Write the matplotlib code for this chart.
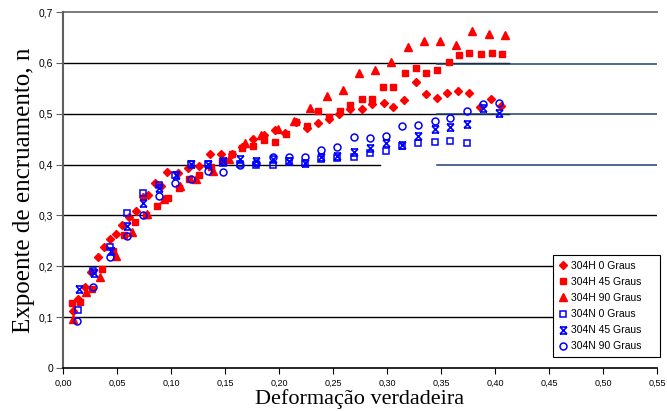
import numpy as np
import matplotlib.pyplot as plt
from matplotlib.path import Path
from matplotlib.ticker import FuncFormatter, MultipleLocator

# 304H 0 Graus
x_h0 = [0.009, 0.014, 0.020, 0.026, 0.032, 0.038, 0.0435, 0.049, 0.055, 0.061, 0.068, 0.074, 0.079,
        0.085, 0.091, 0.0966, 0.106, 0.116, 0.126, 0.136, 0.146, 0.156, 0.166, 0.176, 0.186, 0.196,
        0.206, 0.216, 0.226, 0.236, 0.246, 0.256, 0.266, 0.277, 0.286, 0.297, 0.306, 0.316, 0.3265,
        0.336, 0.346, 0.356, 0.366, 0.376, 0.386, 0.396, 0.406]
y_h0 = [0.112, 0.135, 0.159, 0.188, 0.219, 0.237, 0.254, 0.263, 0.282, 0.297, 0.309, 0.336, 0.341,
        0.364, 0.358, 0.385, 0.383, 0.393, 0.398, 0.420, 0.420, 0.420, 0.435, 0.451, 0.459, 0.468,
        0.463, 0.484, 0.472, 0.481, 0.490, 0.500, 0.510, 0.509, 0.520, 0.521, 0.513, 0.527, 0.562,
        0.538, 0.530, 0.540, 0.545, 0.541, 0.514, 0.529, 0.515]

# 304H 45 Graus
x_h45 = [0.008, 0.016, 0.027, 0.036, 0.0466, 0.0565, 0.0667, 0.077, 0.0867, 0.097, 0.107, 0.117,
         0.126, 0.137, 0.147, 0.156, 0.166, 0.176, 0.186, 0.196, 0.2065, 0.216, 0.226, 0.236, 0.246,
         0.2565, 0.266, 0.2766, 0.286, 0.2966, 0.306, 0.3167, 0.3265, 0.336, 0.346, 0.357, 0.3667,
         0.376, 0.387, 0.397, 0.4068]
y_h45 = [0.128, 0.130, 0.155, 0.194, 0.230, 0.261, 0.288, 0.300, 0.3185, 0.335, 0.353, 0.371,
         0.380, 0.395, 0.408, 0.420, 0.432, 0.437, 0.448, 0.445, 0.460, 0.483, 0.475, 0.505, 0.493,
         0.506, 0.518, 0.528, 0.528, 0.553, 0.553, 0.581, 0.590, 0.580, 0.586, 0.602, 0.616,
         0.620, 0.618, 0.620, 0.617]

# 304H 90 Graus
x_h90 = [0.0096, 0.0213, 0.034, 0.0488, 0.0636, 0.078, 0.0935, 0.108, 0.123, 0.1386, 0.1535, 0.1685,
         0.1837, 0.1989, 0.214, 0.2287, 0.244, 0.259, 0.274, 0.289, 0.304, 0.319, 0.334, 0.349,
         0.364, 0.379, 0.394, 0.409]
y_h90 = [0.096, 0.150, 0.178, 0.220, 0.267, 0.302, 0.333, 0.357, 0.372, 0.387, 0.411, 0.443,
         0.458, 0.470, 0.486, 0.511, 0.534, 0.547, 0.581, 0.585, 0.601, 0.632, 0.642, 0.643,
         0.636, 0.663, 0.657, 0.655]

# 304N 0 Graus
x_n0 = [0.0136, 0.028, 0.0435, 0.059, 0.0738, 0.089, 0.1037, 0.1185, 0.134, 0.1485, 0.164, 0.179,
        0.194, 0.209, 0.224, 0.239, 0.254, 0.269, 0.284, 0.299, 0.314, 0.329, 0.344, 0.358, 0.374]
y_n0 = [0.115, 0.191, 0.2385, 0.305, 0.3435, 0.360, 0.379, 0.4005, 0.4005, 0.4025, 0.402, 0.399,
        0.399, 0.407, 0.403, 0.411, 0.4135, 0.415, 0.4235, 0.426, 0.437, 0.442, 0.445, 0.447, 0.442]

# 304N 45 Graus
x_n45 = [0.0148, 0.0287, 0.0441, 0.059, 0.0738, 0.089, 0.1046, 0.1185, 0.134, 0.1485, 0.164, 0.179,
         0.194, 0.209, 0.224, 0.239, 0.254, 0.269, 0.284, 0.299, 0.314, 0.329, 0.344, 0.358, 0.374,
         0.389, 0.404]
y_n45 = [0.155, 0.1875, 0.231, 0.279, 0.325, 0.354, 0.380, 0.4005, 0.401, 0.408, 0.411, 0.407,
         0.410, 0.407, 0.404, 0.414, 0.416, 0.424, 0.433, 0.443, 0.438, 0.457, 0.469, 0.473, 0.479,
         0.512, 0.501]

# 304N 90 Graus
x_n90 = [0.0133, 0.028, 0.0435, 0.059, 0.0738, 0.089, 0.1037, 0.1185, 0.134, 0.1485, 0.164, 0.179,
         0.194, 0.209, 0.224, 0.239, 0.254, 0.269, 0.284, 0.299, 0.314, 0.329, 0.344, 0.358, 0.374,
         0.389, 0.404]
y_n90 = [0.092, 0.160, 0.218, 0.260, 0.301, 0.339, 0.364, 0.372, 0.387, 0.386, 0.399, 0.403,
         0.4155, 0.4155, 0.4155, 0.4286, 0.434, 0.454, 0.453, 0.456, 0.475, 0.477, 0.486, 0.492, 0.505,
         0.519, 0.522]

labels = ['304H 0 Graus', '304H 45 Graus', '304H 90 Graus',
          '304N 0 Graus', '304N 45 Graus', '304N 90 Graus']

# Excel-style "X" marker with bars on top and bottom
xbar = Path([(-1, 1), (1, -1), (1, 1), (-1, -1), (-1, 1), (1, 1), (-1, -1), (1, -1)],
            [Path.MOVETO, Path.LINETO, Path.MOVETO, Path.LINETO,
             Path.MOVETO, Path.LINETO, Path.MOVETO, Path.LINETO])

fig = plt.figure(figsize=(6.67, 4.11), dpi=100)
ax = fig.add_axes([0.0945, 0.1046, 0.8905, 0.8662])

# grid lines (drawn by hand, partly overlaid like the original)
for yv, xe in [(0.1, 1), (0.2, 1), (0.3, 1), (0.4, 0.533), (0.5, 0.75), (0.6, 0.75)]:
    ax.axhline(yv, 0, xe, color='black', lw=1.0, zorder=1)
for yv in [0.4, 0.5, 0.6]:
    ax.axhline(yv - 0.0015, 0.63, 1, color='#1f3f6e', lw=1.1, zorder=1)
ax.axhline(0.7, color='#707070', lw=1.3, zorder=1, clip_on=False)

ax.plot(x_h0, y_h0, 'D', color='red', ms=4.4, mec='red', label=labels[0], zorder=3)
ax.plot(x_h45, y_h45, 's', color='red', ms=5, mec='red', label=labels[1], zorder=3)
ax.plot(x_h90, y_h90, '^', color='red', ms=5.5, mec='red', label=labels[2], zorder=3)
ax.plot(x_n0, y_n0, 's', mfc='none', mec='blue', mew=1.1, ms=5, label=labels[3], zorder=4)
ax.plot(x_n45, y_n45, ls='none', marker=xbar, mfc='none', mec='blue', mew=1.2, ms=5, label=labels[4], zorder=4)
ax.plot(x_n90, y_n90, 'o', mfc='none', mec='blue', mew=1.1, ms=5, label=labels[5], zorder=4)

ax.set_xlim(0, 0.55)
ax.set_ylim(0, 0.7)
ax.xaxis.set_major_locator(MultipleLocator(0.05))
ax.yaxis.set_major_locator(MultipleLocator(0.1))
ax.xaxis.set_major_formatter(FuncFormatter(lambda v, p: f'{v:.2f}'.replace('.', ',')))
ax.yaxis.set_major_formatter(FuncFormatter(lambda v, p: '0' if abs(v) < 1e-9 else f'{v:.1f}'.replace('.', ',')))

for s in ['top', 'right']:
    ax.spines[s].set_visible(False)
ax.spines['left'].set_color('#606060')
ax.spines['left'].set_linewidth(1.5)
ax.spines['bottom'].set_color('black')
ax.spines['bottom'].set_linewidth(1.2)

ax.tick_params(axis='x', direction='out', length=4, width=0.8, labelsize=6.5, pad=4)
ax.tick_params(axis='y', direction='out', length=5, width=0.8, labelsize=7.5, pad=2, color='#606060')
for t in ax.get_xticklabels() + ax.get_yticklabels():
    t.set_fontfamily('Liberation Sans')

ax.set_xlabel('Deformação verdadeira', fontfamily='Liberation Serif', fontsize=16, labelpad=1)
ax.set_ylabel('Expoente de encruamento, n', fontfamily='Liberation Serif', fontsize=18, labelpad=3)

leg = ax.legend(loc='lower left', bbox_to_anchor=(0.825, 0.031, 0.18, 0.286), mode='expand',
                fancybox=False, framealpha=1, edgecolor='black', borderaxespad=0,
                handlelength=0.8, handletextpad=0.35, labelspacing=0.58, borderpad=0.55,
                prop={'family': 'Liberation Sans', 'size': 7.5})
leg.get_frame().set_linewidth(0.8)
leg.set_zorder(5)

fig.savefig('out.png', dpi=100)
